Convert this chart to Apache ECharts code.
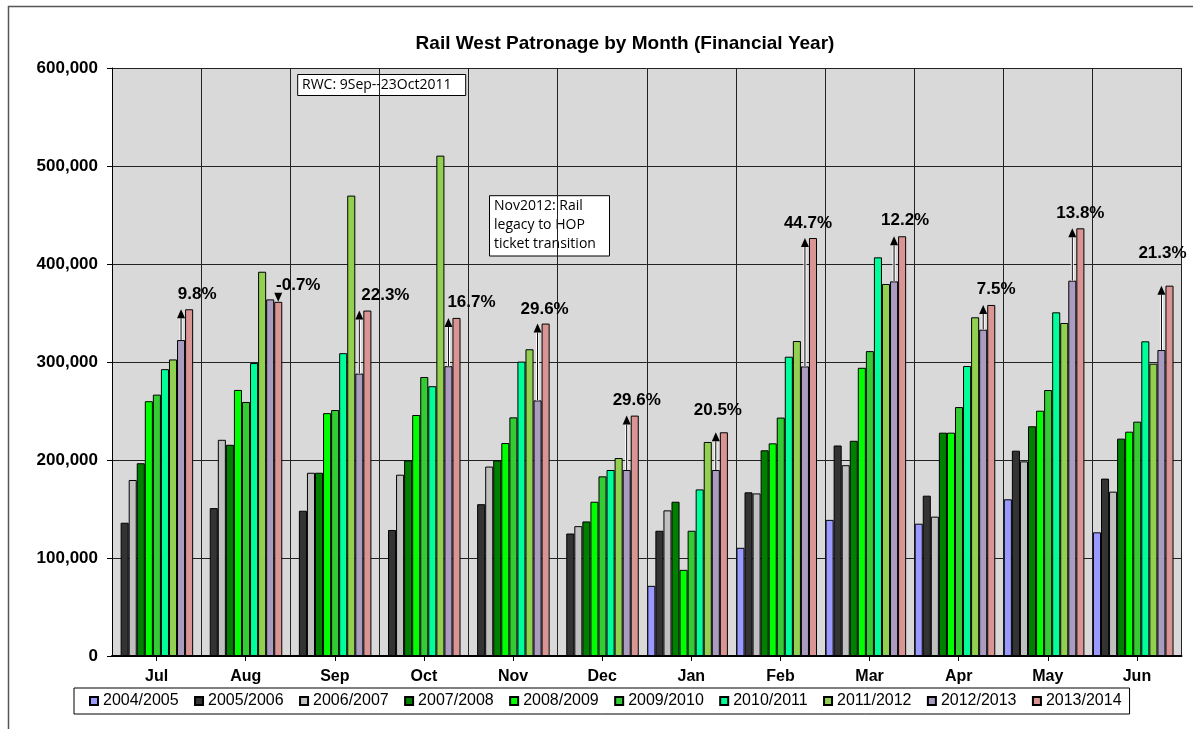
<!DOCTYPE html>
<html><head><meta charset="utf-8">
<script src="https://cdn.jsdelivr.net/npm/echarts@6/dist/echarts.min.js"></script>
<style>html,body{margin:0;padding:0;background:#fff}#c{width:1193px;height:729px}</style>
</head><body><div id="c"></div>
<script>
// ---------- data ----------
const months = ['Jul','Aug','Sep','Oct','Nov','Dec','Jan','Feb','Mar','Apr','May','Jun'];
const seriesNames = ['2004/2005','2005/2006','2006/2007','2007/2008','2008/2009','2009/2010','2010/2011','2011/2012','2012/2013','2013/2014'];
const fy0405 = [null,null,null,null,null,null,71600,110400,138900,135000,159900,126200];
const fy0506 = [136000,150900,148200,128600,154900,125000,127800,167000,214800,163600,209500,181000];
const fy0607 = [179600,220600,187000,185000,193300,132500,148600,165900,194700,142200,198600,167700];
const fy0708 = [196700,215500,187000,199600,199600,137300,157400,209900,219600,227900,234400,221800];
const fy0809 = [260000,271500,247800,245900,217300,157400,87900,217000,294100,227900,250300,228900];
const fy0910 = [266700,259200,251000,284700,243500,183300,127800,243300,311100,254000,271400,239100];
const fy1011 = [292700,298900,309000,275300,300400,189800,170000,305400,406800,295900,350700,321100];
const fy1112 = [302600,392100,469800,510600,313000,202000,218400,321400,379600,345600,339800,298300];
const fy1213 = [322400,363900,288200,295700,260800,189800,189800,295500,382300,333000,383000,312200];
const fy1314 = [353800,361400,352500,345000,339200,245300,228300,426500,428300,358200,436400,377900];
const changeLabels = ['9.8%','-0.7%','22.3%','16.7%','29.6%','29.6%','20.5%','44.7%','12.2%','7.5%','13.8%','21.3%'];
const yTicks = [0,100000,200000,300000,400000,500000,600000];

// ---------- style / layout ----------
const colors = ['#9999FF','#333333','#C0C0C0','#008000','#00FF00','#33CC33','#00FF99','#92D050','#AA9CC0','#D99594'];
const FONT = '"Liberation Sans", Arial, sans-serif';
const NOTE_FONT = '14px "Open Sans", sans-serif';
const GAP = 0.096;
// label nudges (px) relative to a point centred 15px above the 2013/2014 bar
const LABEL_NUDGE = [[8,0],[20,-2],[18,0],[15,-1],[-1,1],[2,0],[-6,-7],[-5,0],[3,-1],[5,-1],[0,0],[-7,-17]];

const yearSeries = [fy0405,fy0506,fy0607,fy0708,fy0809,fy0910,fy1011,fy1112,fy1213,fy1314];
const G0 = {left:112, top:68, width:1069.5, bottom:73};
const G1 = {left:108.3, top:68, width:1069.5, bottom:73};

const chart = echarts.init(document.getElementById('c'), null, {renderer:'canvas'});

const barSeries = seriesNames.map((n,i)=>({
  name:n, type:'bar', xAxisIndex:1, yAxisIndex:1, data:yearSeries[i],
  barGap:'0%', barCategoryGap:(GAP*100)+'%',
  itemStyle:{color:colors[i], borderColor:'#000', borderWidth:1},
  emphasis:{disabled:true}, z:3
}));

const arrowSeries = {
  type:'custom', xAxisIndex:1, yAxisIndex:1, z:5, silent:true,
  data: months.map((m,i)=>[i, fy1213[i], fy1314[i]]),
  renderItem: function(params, api){
    const ci = api.value(0), v0 = api.value(1), v1 = api.value(2);
    const c = api.coord([ci, 0]);
    const band = api.size([1,0])[0];
    const gw = band*(1-GAP), bw = gw/10;
    const up = v1 >= v0;
    const xa = c[0] - gw/2 + bw*((up?8:9)+0.5);
    const xl = c[0] - gw/2 + bw*(9+0.5);
    const y0 = api.coord([ci, v0])[1];
    const y1 = api.coord([ci, v1])[1];
    const h = 9, hw = 4;
    const children = [];
    if (up) {
      if (y0 > y1 + h) {
        children.push({type:'line', shape:{x1:xa,y1:y0,x2:xa,y2:y1+h}, style:{stroke:'#fff', lineWidth:3}});
        children.push({type:'line', shape:{x1:xa,y1:y0,x2:xa,y2:y1+h}, style:{stroke:'#000', lineWidth:1}});
      }
      children.push({type:'polygon', shape:{points:[[xa,y1],[xa-hw,y1+h],[xa+hw,y1+h]]}, style:{fill:'#000'}});
    } else {
      children.push({type:'polygon', shape:{points:[[xa,y1],[xa-hw,y1-h],[xa+hw,y1-h]]}, style:{fill:'#000'}});
    }
    const nd = LABEL_NUDGE[params.dataIndex];
    children.push({type:'text', x: xl + nd[0], y: y1 - 15 + nd[1],
      style:{text: changeLabels[params.dataIndex], font:'bold 17px '+FONT, fill:'#000', align:'center', verticalAlign:'middle'}});
    return {type:'group', children};
  }
};

const option = {
  animation:false,
  backgroundColor:'#fff',
  grid:[
    Object.assign({show:true, backgroundColor:'#D9D9D9', borderWidth:0}, G0),
    Object.assign({show:false}, G1)
  ],
  legend:{
    data: seriesNames, left:74, top:688, orient:'horizontal',
    padding:[5,8,5,15], itemGap:15.4, itemWidth:8, itemHeight:8, icon:'rect',
    borderColor:'#000', borderWidth:1, backgroundColor:'#fff',
    textStyle:{fontFamily:FONT, fontSize:16, color:'#000'},
    selectedMode:false
  },
  xAxis:[
    {type:'category', gridIndex:0, data:months, boundaryGap:true,
     axisLine:{show:true, lineStyle:{color:'#000', width:2}},
     axisTick:{show:true, alignWithLabel:true, length:5, lineStyle:{color:'#000', width:1}},
     axisLabel:{fontFamily:FONT, fontSize:16, fontWeight:'bold', color:'#000', margin:13},
     splitLine:{show:true, lineStyle:{color:'#222', width:1}}},
    {type:'category', gridIndex:1, data:months, show:false}
  ],
  yAxis:[
    {type:'value', gridIndex:0, min:0, max:600000, interval:100000,
     axisLine:{show:true, lineStyle:{color:'#000', width:1}},
     axisTick:{show:true, length:5, lineStyle:{color:'#000'}},
     axisLabel:{fontFamily:FONT, fontSize:17, fontWeight:'bold', color:'#000', margin:14,
       formatter:v=>yTicks.indexOf(v)>=0 ? v.toLocaleString('en-US') : ''},
     splitLine:{show:true, lineStyle:{color:'#222', width:1}}},
    {type:'value', gridIndex:1, min:0, max:600000, interval:100000, show:false, splitLine:{show:false}}
  ],
  graphic:[
    {type:'rect', shape:{x:8.5, y:6.5, width:1300, height:900}, style:{fill:'none', stroke:'#555', lineWidth:1.5}, z:-1, silent:true},
    {type:'text', x:625, y:44, style:{text:'Rail West Patronage by Month (Financial Year)', font:'bold 19px '+FONT, fill:'#000', align:'center', verticalAlign:'middle'}},
    {type:'group', z:100, children:[
      {type:'rect', shape:{x:297.7, y:74.5, width:168, height:21}, style:{fill:'#fff', stroke:'#000', lineWidth:1}},
      {type:'text', x:302, y:85.5, style:{text:'RWC: 9Sep--23Oct2011', font:NOTE_FONT, fill:'#000', align:'left', verticalAlign:'middle'}}
    ]},
    {type:'group', z:100, children:[
      {type:'rect', shape:{x:489.5, y:195.7, width:120, height:60.3}, style:{fill:'#fff', stroke:'#000', lineWidth:1}},
      {type:'text', x:494, y:206.5, style:{text:'Nov2012: Rail', font:NOTE_FONT, fill:'#000', align:'left', verticalAlign:'middle'}},
      {type:'text', x:494, y:225.5, style:{text:'legacy to HOP', font:NOTE_FONT, fill:'#000', align:'left', verticalAlign:'middle'}},
      {type:'text', x:494, y:244.5, style:{text:'ticket transition', font:NOTE_FONT, fill:'#000', align:'left', verticalAlign:'middle'}}
    ]}
  ],
  series: barSeries.concat([arrowSeries])
};
chart.setOption(option);
</script>
</body></html>
